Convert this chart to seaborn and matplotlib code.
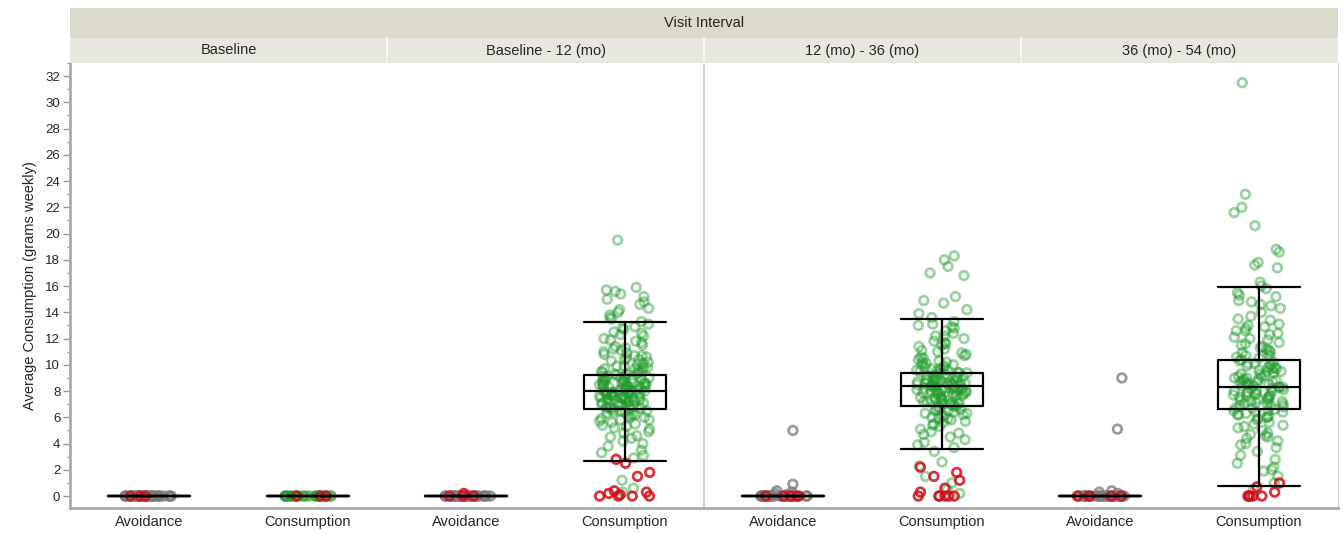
import matplotlib
matplotlib.use('Agg')
import matplotlib.pyplot as plt
import seaborn as sns
import pandas as pd
import numpy as np
from matplotlib.patches import Rectangle
from matplotlib.ticker import MultipleLocator

# ---- data ----
header_title = "Visit Interval"
panels = ["Baseline", "Baseline - 12 (mo)", "12 (mo) - 36 (mo)", "36 (mo) - 54 (mo)"]
categories = ["Avoidance", "Consumption"]

# main points (gray for Avoidance, green for Consumption), one list per panel/category
b_avoid = [0.0] * 30
b_cons = [0.0] * 30
b12_avoid = [0.0] * 28
b12_cons = [19.5, 15.9, 15.7, 15.6, 15.4, 15.2, 15.0, 14.8, 14.6, 14.3, 14.0, 13.8, 13.5, 13.3,
            13.1, 12.9, 12.7, 12.5, 12.4, 12.2, 12.0, 11.9, 11.7, 11.5, 11.4, 11.2, 11.1, 10.9,
            10.8, 10.7, 10.5, 10.4, 10.3, 10.2, 10.0, 9.9, 9.8, 9.7, 9.6, 9.5, 9.4, 9.3, 9.3, 9.2,
            9.1, 9.0, 9.0, 8.9, 8.8, 8.8, 8.7, 8.6, 8.6, 8.5, 8.5, 8.4, 8.3, 8.3, 8.2, 8.2, 8.1,
            8.1, 8.0, 8.0, 7.9, 7.9, 7.8, 7.8, 7.7, 7.7, 7.6, 7.6, 7.5, 7.5, 7.4, 7.3, 7.3, 7.2,
            7.2, 7.1, 7.0, 7.0, 6.9, 6.9, 6.8, 6.7, 6.7, 6.6, 6.5, 6.5, 6.4, 6.3, 6.2, 6.1, 6.0,
            5.9, 5.8, 5.7, 5.6, 5.5, 5.4, 5.2, 5.1, 4.9, 4.8, 4.6, 4.4, 4.2, 4.0, 3.8, 3.5, 3.3,
            3.1, 2.9, 1.2, 0.6, 0.3, 8.4, 8.9, 7.4, 9.8, 10.6, 6.8, 7.9, 8.6, 9.2, 7.1, 11.8, 12.3,
            8.1, 8.7, 7.3, 9.0, 7.6, 8.3, 6.9, 9.4, 8.0, 7.7, 8.5, 10.1, 6.4, 7.2, 8.8, 9.6, 7.0,
            8.2, 7.8, 9.1, 6.6, 10.4, 8.6, 7.5, 5.8, 11.0, 8.9, 7.9, 6.2, 9.3, 8.4, 7.1, 12.8,
            5.3, 10.7, 8.0, 7.4, 9.7, 6.7, 8.5, 13.6, 4.5, 11.3, 7.8, 8.2, 9.9, 6.0, 14.2]
m12_avoid = [5.0, 0.9, 0.4, 0.3, 0.2, 0.1] + [0.0] * 24
m12_cons = [18.3, 18.0, 17.5, 17.0, 16.8, 15.2, 14.9, 14.7, 14.2, 13.9, 13.6, 13.3, 13.0, 12.8,
            12.6, 12.4, 12.2, 12.0, 11.8, 11.6, 11.4, 11.2, 11.0, 10.8, 10.7, 10.5, 10.4, 10.2,
            10.1, 10.0, 9.9, 9.8, 9.7, 9.6, 9.5, 9.4, 9.4, 9.3, 9.2, 9.1, 9.1, 9.0, 8.9, 8.9, 8.8,
            8.8, 8.7, 8.7, 8.6, 8.6, 8.5, 8.5, 8.4, 8.4, 8.3, 8.3, 8.2, 8.2, 8.1, 8.1, 8.0, 8.0,
            7.9, 7.9, 7.8, 7.8, 7.7, 7.7, 7.6, 7.5, 7.5, 7.4, 7.3, 7.3, 7.2, 7.1, 7.0, 7.0, 6.9,
            6.9, 6.8, 6.7, 6.6, 6.5, 6.4, 6.3, 6.2, 6.1, 6.0, 5.9, 5.8, 5.6, 5.5, 5.3, 5.1, 4.9,
            4.7, 4.5, 4.3, 4.1, 3.9, 3.7, 3.4, 2.6, 2.3, 1.5, 1.0, 0.5, 0.2, 8.6, 9.2, 7.6, 10.3,
            11.5, 6.6, 8.0, 9.6, 7.2, 12.9, 5.7, 10.9, 8.3, 8.5, 9.0, 7.8, 8.2, 9.3, 7.4, 8.7,
            10.0, 6.8, 8.1, 9.5, 7.0, 8.9, 11.1, 6.3, 8.4, 9.8, 7.7, 8.0, 10.6, 5.9, 9.1, 7.5,
            8.6, 12.2, 6.5, 8.8, 9.4, 7.1, 11.7, 5.4, 8.3, 10.2, 7.9, 6.1, 9.7, 8.5, 13.1, 4.8]
m36_avoid = [9.0, 5.1, 0.4, 0.3, 0.2] + [0.0] * 24
m36_cons = [31.5, 23.0, 22.0, 21.6, 20.6, 18.8, 18.6, 17.8, 17.6, 17.4, 16.3, 16.0, 15.8, 15.5,
            15.2, 14.9, 14.6, 14.3, 14.0, 13.7, 13.4, 13.1, 12.9, 12.6, 12.4, 12.1, 11.9, 11.7,
            11.5, 11.3, 11.1, 10.9, 10.7, 10.6, 10.4, 10.3, 10.1, 10.0, 9.8, 9.7, 9.5, 9.4, 9.3,
            9.1, 9.0, 8.9, 8.8, 8.7, 8.6, 8.5, 8.4, 8.3, 8.3, 8.2, 8.1, 8.0, 7.9, 7.8, 7.7, 7.6,
            7.5, 7.4, 7.3, 7.2, 7.1, 7.0, 6.9, 6.8, 6.7, 6.6, 6.5, 6.4, 6.3, 6.1, 6.0, 5.8, 5.6,
            5.4, 5.2, 5.0, 4.8, 4.6, 4.4, 4.2, 4.0, 3.7, 3.4, 3.1, 2.8, 2.5, 2.2, 1.9, 1.5, 1.0,
            0.5, 8.7, 9.9, 7.7, 11.2, 6.2, 8.4, 12.8, 5.5, 10.8, 7.1, 9.6, 13.5, 4.7, 8.9, 14.5,
            8.0, 9.2, 7.4, 10.5, 6.7, 8.6, 11.6, 7.9, 9.0, 6.4, 10.2, 8.3, 12.3, 7.2, 9.5, 5.9,
            8.8, 11.0, 7.6, 9.8, 6.9, 13.0, 8.1, 10.0, 7.0, 9.3, 5.3, 12.0, 8.5, 7.8, 10.7, 6.5,
            14.8, 9.1, 4.5, 8.2, 11.4, 7.5, 3.9, 10.1, 6.0, 15.3, 8.7, 9.7, 7.3, 2.0, 12.6, 6.2]

# red points (shown on top) for each panel/category
b_avoid_red = [0.0, 0.0, 0.0]
b_cons_red = [0.0, 0.0, 0.0]
b12_avoid_red = [0.2, 0.0, 0.0, 0.0]
b12_cons_red = [2.8, 2.5, 1.8, 1.5, 0.4, 0.3, 0.2, 0.1, 0.0, 0.0, 0.0, 0.0]
m12_avoid_red = [0.0, 0.0, 0.0, 0.0, 0.0]
m12_cons_red = [2.2, 1.8, 1.5, 1.2, 0.6, 0.3, 0.0, 0.0, 0.0, 0.0, 0.0, 0.0]
m36_avoid_red = [0.0, 0.0, 0.0, 0.0, 0.0]
m36_cons_red = [1.0, 0.7, 0.3, 0.0, 0.0, 0.0, 0.0, 0.0]

# box stats per slot: whisker low, q1, median, q3, whisker high
box_whislo = [0, 0, 0, 2.7, 0, 3.6, 0, 0.8]
box_q1 = [0, 0, 0, 6.6, 0, 6.9, 0, 6.6]
box_med = [0, 0, 0, 8.0, 0, 8.4, 0, 8.3]
box_q3 = [0, 0, 0, 9.2, 0, 9.4, 0, 10.4]
box_whishi = [0, 0, 0, 13.3, 0, 13.5, 0, 15.9]

y_ticks = list(range(0, 33, 2))

# ---- build long table ----
main_lists = [b_avoid, b_cons, b12_avoid, b12_cons, m12_avoid, m12_cons, m36_avoid, m36_cons]
red_lists = [b_avoid_red, b_cons_red, b12_avoid_red, b12_cons_red,
             m12_avoid_red, m12_cons_red, m36_avoid_red, m36_cons_red]
slots = [f"{p}|{c}" for p in panels for c in categories]

rows = []
for slot, vals in zip(slots, main_lists):
    grp = "gray" if slot.endswith("Avoidance") else "green"
    rows += [(slot, v, grp) for v in vals]
for slot, vals in zip(slots, red_lists):
    rows += [(slot, v, "red") for v in vals]
df = pd.DataFrame(rows, columns=["slot", "value", "grp"])

W, H = 1343, 534
fig = plt.figure(figsize=(W / 100, H / 100), dpi=100)
sns.set_style("white")
plt.rcParams['font.family'] = ['Liberation Sans', 'DejaVu Sans']

ax = fig.add_axes([70 / W, 26 / H, 1268 / W, 445 / H])

colors = {"gray": ("#7a7a7a", 0.75), "green": ("#1f9a2a", 0.45), "red": ("#d0101c", 0.85)}
np.random.seed(3)
for grp in ["gray", "green", "red"]:
    sub = df[df.grp == grp]
    n0 = len(ax.collections)
    sns.stripplot(data=sub, x="slot", y="value", order=slots, color=colors[grp][0],
                  jitter=0.16, size=6.2, ax=ax, zorder=2)
    rgba = matplotlib.colors.to_rgba(colors[grp][0], colors[grp][1])
    for coll in ax.collections[n0:]:
        coll.set_alpha(None)
        coll.set_facecolors("none")
        coll.set_edgecolors([rgba])
        coll.set_linewidths(2.0)

stats = [dict(whislo=a, q1=b, med=c, q3=d, whishi=e, fliers=[])
         for a, b, c, d, e in zip(box_whislo, box_q1, box_med, box_q3, box_whishi)]
lw = 1.6
ax.bxp(stats, positions=range(len(slots)), widths=0.52, capwidths=0.52, showfliers=False,
       boxprops=dict(color="black", linewidth=lw), medianprops=dict(color="black", linewidth=lw),
       whiskerprops=dict(color="black", linewidth=lw), capprops=dict(color="black", linewidth=lw),
       manage_ticks=False, zorder=4)

ax.axvline(3.5, color="#c8c8c8", linewidth=1.2, zorder=1)
ax.set_xlim(-0.5, len(slots) - 0.5)
ax.set_ylim(-0.91, 33.0)
ax.set_xticks(range(len(slots)))
ax.set_xticklabels([s.split("|")[1] for s in slots], fontsize=10.5)
ax.set_xlabel("")
ax.set_yticks(y_ticks)
ax.set_yticklabels([str(t) for t in y_ticks], fontsize=9.5)
ax.yaxis.set_minor_locator(MultipleLocator(1))
ax.tick_params(axis="y", which="major", length=5, color="#999999", width=1, left=True, pad=2)
ax.tick_params(axis="y", which="minor", length=2.5, color="#999999", width=1, left=True)
ax.tick_params(axis="x", length=0, pad=5)
ax.set_ylabel("Average Consumption (grams weekly)", fontsize=10.5, labelpad=6)
for side in ["left", "bottom"]:
    ax.spines[side].set_color("#aaaaaa")
    ax.spines[side].set_linewidth(2)
ax.spines["right"].set_color("#d0d0d0")
ax.spines["top"].set_visible(False)

# ---- header bands ----
x0, x1 = 70 / W, 1338 / W
top_band = (H - 38) / H, 30 / H
sub_band = (H - 63) / H, 25 / H
fig.add_artist(Rectangle((x0, top_band[0]), x1 - x0, top_band[1], transform=fig.transFigure,
                         facecolor="#dcdacb", edgecolor="none"))
fig.add_artist(Rectangle((x0, sub_band[0]), x1 - x0, sub_band[1], transform=fig.transFigure,
                         facecolor="#e8e7df", edgecolor="none"))
fig.text((x0 + x1) / 2, top_band[0] + top_band[1] / 2, header_title, ha="center", va="center",
         fontsize=10.5)
pw = (x1 - x0) / len(panels)
for i, p in enumerate(panels):
    fig.text(x0 + pw * (i + 0.5), sub_band[0] + sub_band[1] / 2, p, ha="center", va="center",
             fontsize=10.5)
    if i > 0:
        fig.add_artist(plt.Line2D([x0 + pw * i] * 2, [sub_band[0], sub_band[0] + sub_band[1]],
                                  transform=fig.transFigure, color="#f6f6f2", linewidth=1.5))

fig.savefig("out.png", dpi=100)
